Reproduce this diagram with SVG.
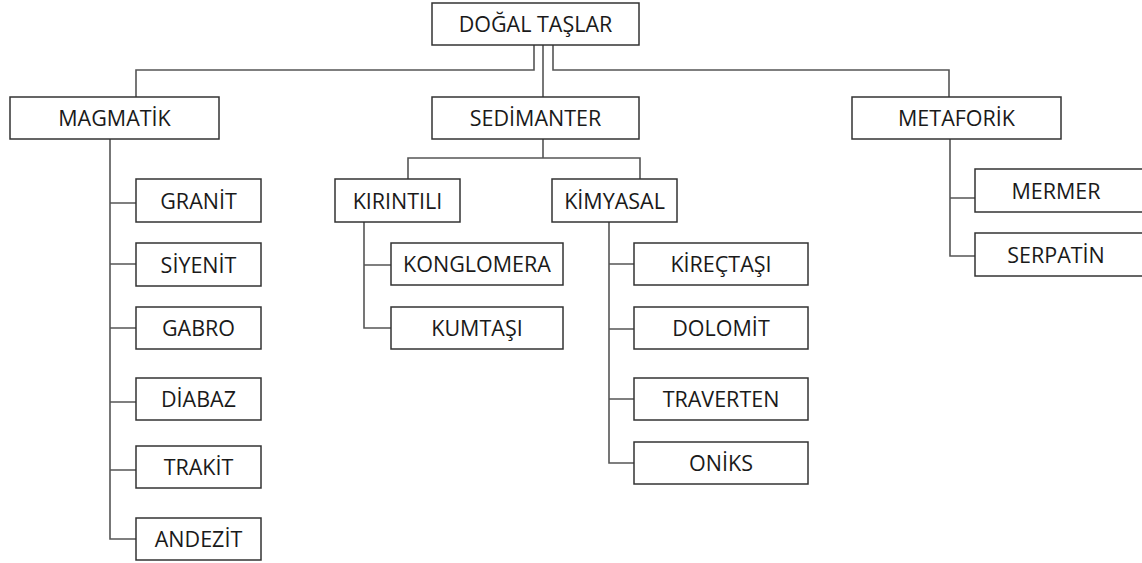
<svg xmlns="http://www.w3.org/2000/svg" width="1142" height="563" viewBox="0 0 1142 563">
<style>
.box{fill:#fff;stroke:#333;stroke-width:1.5}
.lbl{font-family:"Open Sans","Noto Sans",sans-serif;font-size:21.5px;fill:#1a1a1a;text-anchor:middle}
.con{fill:none;stroke:#555;stroke-width:1.6}
</style>
<rect width="1142" height="563" fill="#fff"/>
<g id="connectors">
<path class="con" d="M534 45V70H136V97"/>
<path class="con" d="M543 45V97"/>
<path class="con" d="M553 45V70H949V97"/>
<path class="con" d="M543 139V158M408 179V158H640V179"/>
<path class="con" d="M110 139V539H136M110 203H136M110 264H136M110 328H136M110 402H136M110 470H136"/>
<path class="con" d="M364 222V328H391M364 265H391"/>
<path class="con" d="M609 222V463H634M609 264H634M609 329H634M609 399H634"/>
<path class="con" d="M950 139V256H975M950 198H975"/>
</g>
<g id="n-dogal"><rect class="box" x="432" y="3" width="207" height="42"/><text class="lbl" x="535.5" y="32">DOĞAL TAŞLAR</text></g>
<g id="n-magmatik"><rect class="box" x="10" y="97" width="209" height="42"/><text class="lbl" x="114.5" y="126">MAGMATİK</text></g>
<g id="n-sedimanter"><rect class="box" x="432" y="97" width="207" height="42"/><text class="lbl" x="535.5" y="126">SEDİMANTER</text></g>
<g id="n-metaforik"><rect class="box" x="852" y="97" width="209" height="42"/><text class="lbl" x="956.5" y="126">METAFORİK</text></g>
<g id="n-granit"><rect class="box" x="136" y="179" width="125" height="43"/><text class="lbl" x="198.5" y="209">GRANİT</text></g>
<g id="n-siyenit"><rect class="box" x="136" y="243" width="125" height="43"/><text class="lbl" x="198.5" y="273">SİYENİT</text></g>
<g id="n-gabro"><rect class="box" x="136" y="307" width="125" height="42"/><text class="lbl" x="198.5" y="336">GABRO</text></g>
<g id="n-diabaz"><rect class="box" x="136" y="378" width="125" height="42"/><text class="lbl" x="198.5" y="407">DİABAZ</text></g>
<g id="n-trakit"><rect class="box" x="136" y="446" width="125" height="42"/><text class="lbl" x="198.5" y="475">TRAKİT</text></g>
<g id="n-andezit"><rect class="box" x="136" y="518" width="125" height="42"/><text class="lbl" x="198.5" y="547">ANDEZİT</text></g>
<g id="n-kirintili"><rect class="box" x="335" y="179" width="125" height="43"/><text class="lbl" x="397.5" y="209">KIRINTILI</text></g>
<g id="n-kimyasal"><rect class="box" x="552" y="179" width="125" height="43"/><text class="lbl" x="614.5" y="209">KİMYASAL</text></g>
<g id="n-konglomera"><rect class="box" x="391" y="243" width="172" height="42"/><text class="lbl" x="477" y="272">KONGLOMERA</text></g>
<g id="n-kumtasi"><rect class="box" x="391" y="307" width="172" height="42"/><text class="lbl" x="477" y="336">KUMTAŞI</text></g>
<g id="n-kirectasi"><rect class="box" x="634" y="243" width="174" height="42"/><text class="lbl" x="721" y="272">KİREÇTAŞI</text></g>
<g id="n-dolomit"><rect class="box" x="634" y="307" width="174" height="42"/><text class="lbl" x="721" y="336">DOLOMİT</text></g>
<g id="n-traverten"><rect class="box" x="634" y="378" width="174" height="42"/><text class="lbl" x="721" y="407">TRAVERTEN</text></g>
<g id="n-oniks"><rect class="box" x="634" y="442" width="174" height="42"/><text class="lbl" x="721" y="471">ONİKS</text></g>
<g id="n-mermer"><rect class="box" x="975" y="169" width="180" height="43"/><text class="lbl" x="1056" y="199">MERMER</text></g>
<g id="n-serpatin"><rect class="box" x="975" y="233" width="180" height="43"/><text class="lbl" x="1056" y="263">SERPATİN</text></g>
</svg>
